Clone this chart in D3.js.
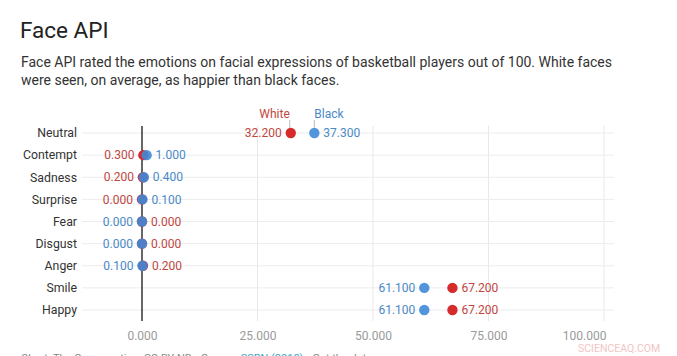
<!DOCTYPE html>
<html><head><meta charset="utf-8">
<script src="https://cdn.jsdelivr.net/npm/d3@7"></script>
<style>
html,body{margin:0;padding:0;background:#fff;overflow:hidden;}
svg{display:block;font-family:Roboto,"Noto Sans",sans-serif;}
</style></head>
<body>
<svg id="c" width="677" height="356"></svg>
<script>
const categories = ["Neutral","Contempt","Sadness","Surprise","Fear","Disgust","Anger","Smile","Happy"];
const white = [32.2,0.3,0.2,0.0,0.0,0.0,0.2,67.2,67.2];
const black = [37.3,1.0,0.4,0.1,0.0,0.0,0.1,61.1,61.1];
const xTicks = [0,25,50,75,100];
const seriesNames = ["White","Black"];

const RED = "#d52b2b", BLUE = "#3f8ad8";
const RED_T = "#c0473f", BLUE_T = "#4a89c8";
const svg = d3.select("#c");

svg.append("text").attr("x",20).attr("y",38).attr("font-size",22.5).attr("fill","#222").text("Face API");
svg.append("text").attr("x",21).attr("y",67).attr("font-size",14).attr("fill","#333").text("Face API rated the emotions on facial expressions of basketball players out of 100. White faces");
svg.append("text").attr("x",21).attr("y",85).attr("font-size",14).attr("fill","#333").text("were seen, on average, as happier than black faces.");

const x = d3.scaleLinear().domain([0,100]).range([142,604]);
const y = d3.scalePoint().domain(categories).range([133,310]);

const g = svg.append("g");
// vertical gridlines
xTicks.forEach(t=>{
  g.append("line").attr("x1",x(t)).attr("x2",x(t)).attr("y1",126).attr("y2",321)
    .attr("stroke", t===0 ? "none" : "#e8e8e8").attr("stroke-width",1);
});
// row lines
categories.forEach(c=>{
  g.append("line").attr("x1",82).attr("x2",614).attr("y1",y(c)).attr("y2",y(c))
    .attr("stroke","#ececec").attr("stroke-width",1);
  g.append("text").attr("x",77).attr("y",y(c)).attr("dy","0.35em").attr("text-anchor","end")
    .attr("font-size",12.3).attr("fill","#333").text(c);
});
// zero line
g.append("line").attr("x1",x(0)).attr("x2",x(0)).attr("y1",126).attr("y2",321).attr("stroke","#000").attr("stroke-width",1.2);

// x axis labels
const ax = svg.append("g").attr("transform","translate(0,333)")
  .call(d3.axisBottom(x).tickValues(xTicks).tickSize(0).tickFormat(d3.format(".3f")));
ax.select(".domain").remove();
ax.selectAll("text").attr("font-size",12).attr("fill","#9a9a9a").attr("font-family","Roboto").attr("dy","0.3em");
ax.selectAll(".tick").filter(d=>d===100).select("text").attr("text-anchor","end").attr("x",2);

const fmt = d3.format(".3f");
// dots and labels
categories.forEach((c,i)=>{
  const w = white[i], b = black[i];
  const cy = y(c);
  let wIsLeft = w < b;
  if (c === "Surprise") wIsLeft = true;
  const lo = Math.min(w,b), hi = Math.max(w,b);
  const leftVal = wIsLeft ? w : b, rightVal = wIsLeft ? b : w;
  const leftCol = wIsLeft ? RED_T : BLUE_T, rightCol = wIsLeft ? BLUE_T : RED_T;
  g.append("circle").attr("cx",x(w)).attr("cy",cy).attr("r",5.2).attr("fill",RED);
  g.append("circle").attr("cx",x(b)).attr("cy",cy).attr("r",5.2).attr("fill",BLUE).attr("fill-opacity",0.9);
  g.append("text").attr("x",x(lo)-9).attr("y",cy).attr("dy","0.35em").attr("text-anchor","end")
    .attr("font-size",12).attr("fill",leftCol).text(fmt(leftVal));
  g.append("text").attr("x",x(hi)+9).attr("y",cy).attr("dy","0.35em").attr("text-anchor","start")
    .attr("font-size",12).attr("fill",rightCol).text(fmt(rightVal));
});

// series labels above Neutral row
const ny = y("Neutral");
g.append("line").attr("x1",x(white[0])-1).attr("x2",x(white[0])-1).attr("y1",120).attr("y2",ny-5).attr("stroke","#bbb");
g.append("line").attr("x1",x(black[0])).attr("x2",x(black[0])).attr("y1",120).attr("y2",ny-5).attr("stroke","#bbb");
g.append("text").attr("x",x(white[0])-1).attr("y",118).attr("text-anchor","end").attr("font-size",12).attr("fill",RED_T).text(seriesNames[0]);
g.append("text").attr("x",x(black[0])).attr("y",118).attr("text-anchor","start").attr("font-size",12).attr("fill",BLUE_T).text(seriesNames[1]);

// footer (partially cut off, as in the reference)
const f = svg.append("text").attr("x",21).attr("y",362).attr("font-size",11).attr("fill","#888");
f.append("tspan").text("Chart: The Conversation, CC-BY-ND • Source: ");
f.append("tspan").attr("fill","#3aa8c8").text("SSRN (2018)");
f.append("tspan").text(" • Get the data");

// watermark
svg.append("text").attr("x",578).attr("y",352).attr("font-size",10.5).attr("fill","#f2c4c4").text("SCIENCEAQ.COM");
</script>
</body></html>
